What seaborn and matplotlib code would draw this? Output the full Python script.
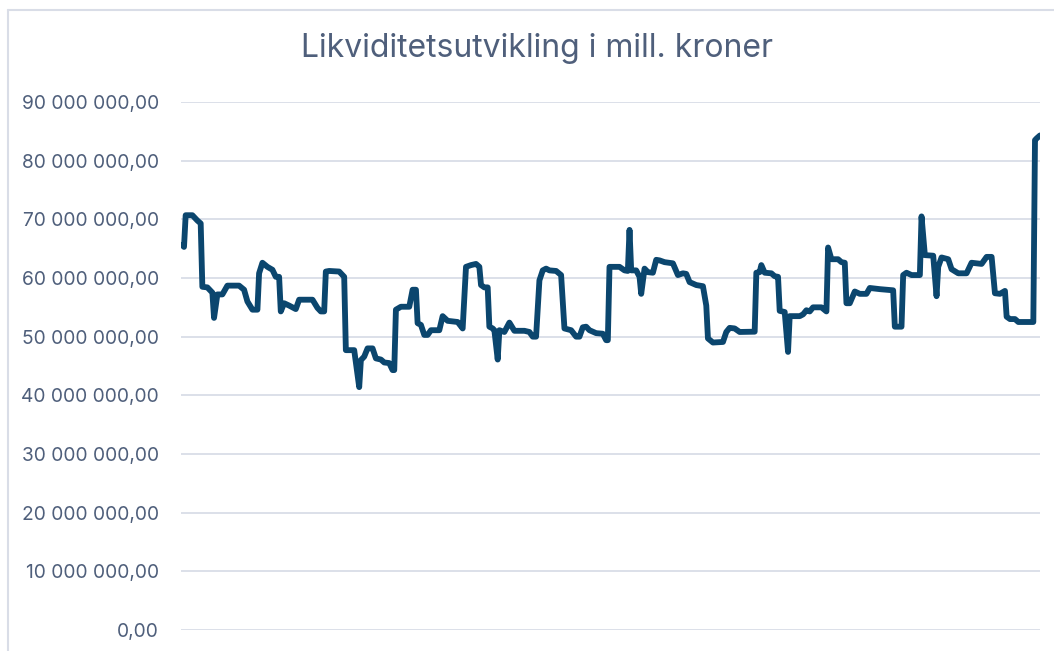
import numpy as np
import pandas as pd
import matplotlib
matplotlib.use("Agg")
import matplotlib.pyplot as plt
import matplotlib.ticker as mticker
import seaborn as sns

# dag-indeks og saldo (mill. kr) lest av figuren
dag = [0, 1, 2, 6, 9, 11, 12, 15, 17, 18, 19, 21, 24, 27, 34, 37, 39, 42, 45, 46,
       48, 51, 54, 56, 58, 59, 61, 64, 68, 70, 78, 81, 83, 85, 86, 88, 94, 97, 98, 103,
       106, 107, 109, 111, 114, 116, 119, 121, 124, 126, 127, 128, 131, 136, 138, 140, 141, 143, 145, 147,
       149, 154, 156, 159, 165, 168, 170, 173, 176, 178, 179, 181, 183, 184, 186, 187, 189, 190, 193, 196,
       199, 205, 208, 210, 212, 214, 216, 218, 220, 224, 227, 229, 233, 236, 238, 240, 242, 244, 248, 252,
       254, 255, 256, 262, 265, 267, 268, 269, 272, 274, 275, 277, 279, 282, 284, 286, 289, 294, 297, 300,
       302, 304, 308, 312, 314, 315, 318, 324, 326, 328, 331, 334, 343, 344, 346, 347, 349, 353, 355, 357,
       358, 361, 363, 364, 370, 372, 374, 376, 378, 383, 386, 387, 389, 393, 395, 397, 398, 400, 403, 406,
       410, 412, 418, 422, 426, 427, 431, 432, 434, 437, 442, 443, 445, 450, 452, 453, 455, 459, 461, 465,
       470, 473, 479, 482, 485, 487, 490, 493, 494, 496, 499, 501, 510, 511, 512, 514]

saldo_mill = [65.6, 65.3, 70.7, 70.7, 69.8, 69.3, 58.5, 58.4, 57.8, 57.5, 53.2, 57.2, 57.2, 58.7, 58.7, 58.0, 56.0, 54.6, 54.6, 60.8,
              62.6, 61.9, 61.4, 60.2, 60.2, 54.3, 55.7, 55.3, 54.7, 56.3, 56.3, 54.9, 54.3, 54.3, 61.1, 61.2, 61.1, 60.2, 47.7, 47.7,
              41.4, 46.0, 46.6, 48.0, 48.0, 46.3, 46.1, 45.6, 45.5, 44.3, 44.3, 54.6, 55.1, 55.1, 58.0, 58.0, 52.3, 52.0, 50.3, 50.3,
              51.1, 51.1, 53.5, 52.7, 52.5, 51.4, 61.9, 62.2, 62.4, 61.9, 58.8, 58.4, 58.4, 51.7, 51.4, 51.1, 46.1, 51.1, 50.8, 52.4,
              51.0, 51.0, 50.8, 50.0, 50.0, 59.6, 61.3, 61.6, 61.3, 61.2, 60.5, 51.4, 51.1, 50.0, 50.0, 51.6, 51.7, 51.1, 50.6, 50.5,
              49.4, 49.4, 61.9, 61.9, 61.3, 61.2, 68.2, 61.3, 61.3, 60.2, 57.3, 61.6, 61.0, 60.9, 63.1, 63.0, 62.7, 62.5, 60.5, 60.8,
              60.7, 59.3, 58.8, 58.6, 55.3, 49.7, 49.0, 49.1, 50.8, 51.5, 51.4, 50.8, 50.85, 60.9, 61.0, 62.2, 60.9, 60.8, 60.3, 60.2,
              54.4, 54.2, 47.4, 53.5, 53.5, 53.8, 54.5, 54.3, 55.0, 55.0, 54.3, 65.2, 63.2, 63.2, 62.7, 62.6, 55.7, 55.7, 57.7, 57.3,
              57.3, 58.3, 58.1, 58.0, 57.9, 51.7, 51.7, 60.5, 60.9, 60.5, 60.5, 70.5, 63.9, 63.8, 56.9, 61.9, 63.5, 63.2, 61.5, 60.8,
              60.8, 62.6, 62.4, 63.6, 63.6, 57.4, 57.3, 57.8, 53.4, 53.0, 53.0, 52.5, 52.5, 83.5, 83.8, 84.3]

df = pd.DataFrame({"dag": dag, "saldo": np.array(saldo_mill) * 1e6})

sns.set_theme(style="white")
plt.rcParams["font.family"] = ["Inter", "DejaVu Sans"]

text_color = "#4F5F7B"
grid_color = "#D9DDE7"
line_color = "#0B466E"

fig = plt.figure(figsize=(10.54, 6.51), dpi=100)
ax = fig.add_axes([181 / 1054, 21 / 651, (1040 - 181) / 1054, 528 / 651])

sns.lineplot(data=df, x="dag", y="saldo", ax=ax, color=line_color, linewidth=4.2,
             solid_joinstyle="round", solid_capstyle="round")

ax.set_ylim(0, 90e6)
ax.set_xlim(min(dag) - 0.8, max(dag))
ax.yaxis.set_major_locator(mticker.MultipleLocator(10e6))
ax.yaxis.set_major_formatter(mticker.FuncFormatter(
    lambda v, p: f"{v:,.2f}".replace(",", " ").replace(".", ",")))
ax.grid(axis="y", color=grid_color, linewidth=1.3)
ax.set_axisbelow(True)
ax.set_xticks([])
ax.set_xlabel("")
ax.set_ylabel("")
for s in ax.spines.values():
    s.set_visible(False)
ax.tick_params(axis="y", length=0, pad=16, labelsize=13.8, labelcolor=text_color)

fig.text(537 / 1054, 1 - 48 / 651, "Likviditetsutvikling i mill. kroner",
         ha="center", va="center", fontsize=23, color=text_color)

# ramme rundt diagramomraadet
fig.add_artist(plt.Line2D([7.5 / 1054, 7.5 / 1054], [0, 1 - 9.5 / 651],
                          transform=fig.transFigure, color=grid_color, linewidth=1.5))
fig.add_artist(plt.Line2D([7.5 / 1054, 1], [1 - 9.5 / 651, 1 - 9.5 / 651],
                          transform=fig.transFigure, color=grid_color, linewidth=1.5))

fig.savefig("out.png", dpi=100, facecolor="white")
